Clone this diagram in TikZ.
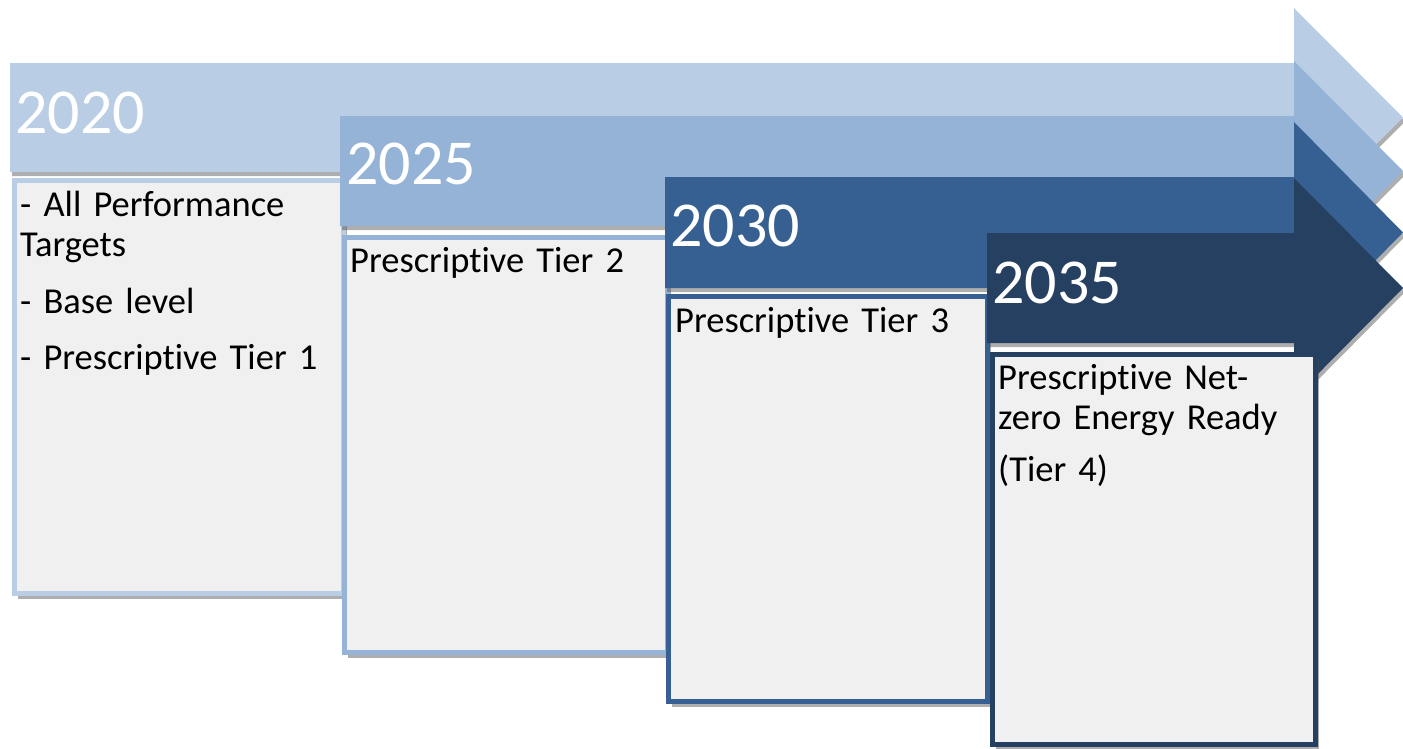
\documentclass[tikz,border=0pt]{standalone}
\usepackage{fontspec}
\setmainfont{Carlito}[Ligatures=NoCommon,WordSpace=0.65]
\usetikzlibrary{shadows}
\definecolor{tierA}{HTML}{B9CDE5}
\definecolor{tierB}{HTML}{95B3D7}
\definecolor{tierC}{HTML}{376092}
\definecolor{tierD}{HTML}{254061}
\definecolor{cardfill}{HTML}{F0F0F0}
\tikzset{
  band/.style={drop shadow={shadow xshift=2pt,shadow yshift=-4pt,fill=black!70,opacity=.45}},
  card/.style={fill=cardfill,line width=5pt,drop shadow={shadow xshift=3pt,shadow yshift=-5pt,fill=black!70,opacity=.45}},
  year/.style={anchor=base west,inner sep=0pt,text=white,font=\fontsize{64}{64}\selectfont},
  note/.style={anchor=base west,inner sep=0pt,text width=310pt,align=left,font=\fontsize{36.5}{40}\selectfont}
}
\begin{document}
\begin{tikzpicture}[x=1pt,y=-1pt]
\useasboundingbox (0,0) rectangle (1403,748);
\fill[tierA,band] (10,63)--(1294,63)--(1294,8)--(1403,117.5)--(1294,227)--(1294,172)--(10,172)--cycle;
\node[year] (y2020) at (15,133) {2020};
\filldraw[card,draw=tierA] (14.5,180.5) rectangle (343.5,593.5);
\node[note] (t2020) at (20,216) {- All Performance\\Targets\\[17pt]- Base level\\[16pt]- Prescriptive Tier 1};
\fill[tierB,band] (340,116)--(1294,116)--(1294,61)--(1403,171)--(1294,281)--(1294,226)--(340,226)--cycle;
\node[year] (y2025) at (346,184) {2025};
\filldraw[card,draw=tierB] (344.5,237.5) rectangle (667.5,652.5);
\node[note] (t2025) at (350,272) {Prescriptive Tier 2};
\fill[tierC,band] (665,177)--(1294,177)--(1294,122)--(1403,232.5)--(1294,343)--(1294,288)--(665,288)--cycle;
\node[year] (y2030) at (670,246) {2030};
\filldraw[card,draw=tierC] (668.5,296.5) rectangle (987.5,701.5);
\node[note] (t2030) at (675,332) {Prescriptive Tier 3};
\fill[tierD,band] (987,233)--(1294,233)--(1294,178)--(1403,288)--(1294,398)--(1294,343)--(987,343)--cycle;
\node[year] (y2035) at (992,303) {2035};
\filldraw[card,draw=tierD] (992.5,354.5) rectangle (1315.5,744.5);
\node[note] (t2035) at (998,389) {Prescriptive Net-\\zero Energy Ready\\[12pt](Tier 4)};
\end{tikzpicture}
\end{document}
